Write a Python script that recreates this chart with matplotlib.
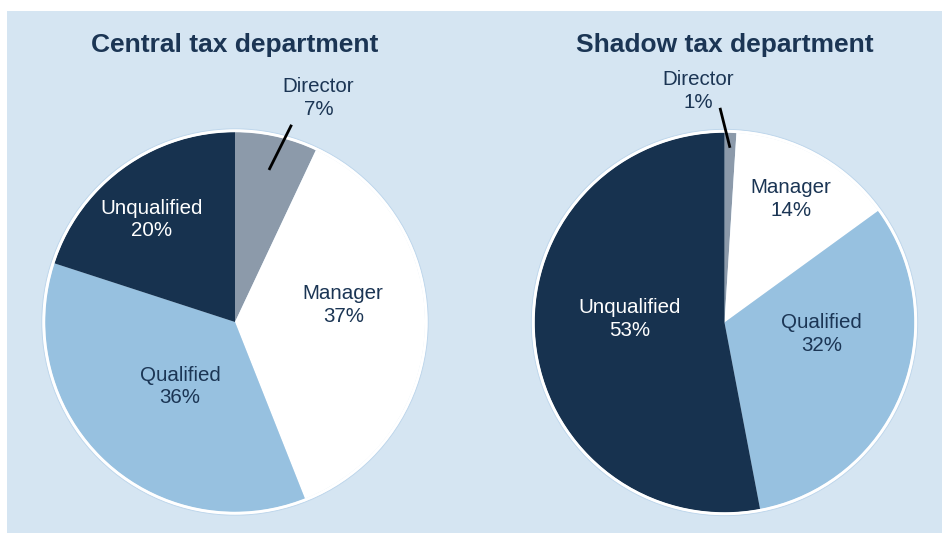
import matplotlib.pyplot as plt
from matplotlib.patches import Rectangle, Circle
import numpy as np

plt.rcParams['font.family'] = ['Liberation Sans', 'DejaVu Sans']

# data
categories = ['Director', 'Manager', 'Qualified', 'Unqualified']
central = [7, 37, 36, 20]
shadow = [1, 14, 32, 53]
titles = ['Central tax department', 'Shadow tax department']

colors = ['#8c9aaa', '#ffffff', '#97c1e0', '#17324f']
txt_colors = ['#1b3554', '#1b3554', '#1b3554', '#ffffff']
navy = '#1b3554'
bg = '#d5e5f2'

W, H = 942, 533
fig = plt.figure(figsize=(W / 100.0, H / 100.0), dpi=100)
ax = fig.add_axes([0, 0, 1, 1])

ax.add_patch(Rectangle((7, 0), W - 7, H - 11, facecolor=bg, edgecolor='none', zorder=0))

# pie layout (pixel units, y up)
centers = [(235, H - 322), (724.5, H - 322.5)]
R = 190
# label positions: (x, y) relative to centre, in units of radius
label_off = [
    [(0.44, 1.18), (0.57, 0.09), (-0.29, -0.34), (-0.44, 0.54)],
    [(-0.14, 1.22), (0.35, 0.65), (0.51, -0.06), (-0.5, 0.02)],
]
leader_r = [(0.82, 1.08, -3.4), (0.92, 1.13, 3.0)]

for k, vals in enumerate([central, shadow]):
    cx, cy = centers[k]
    wedges, _ = ax.pie(vals, colors=colors, startangle=90, counterclock=False,
                       center=(cx, cy), radius=R,
                       wedgeprops=dict(linewidth=0, edgecolor='none'))
    ax.add_patch(Circle((cx, cy), R + 1.5, facecolor='none', edgecolor='white',
                        linewidth=2.5, zorder=5))
    ax.add_patch(Circle((cx, cy), R + 3.2, facecolor='none', edgecolor='#b9d3ea',
                        linewidth=0.6, zorder=5))
    ax.text(cx, H - 45, titles[k], ha='center', va='center', fontsize=19,
            fontweight='bold', color=navy)
    for i, w in enumerate(wedges):
        dx, dy = label_off[k][i]
        ax.text(cx + dx * R, cy + dy * R, '%s\n%d%%' % (categories[i], vals[i]),
                ha='center', va='center', fontsize=14.8, color=txt_colors[i],
                linespacing=1.25, zorder=6)
    # leader line for the small Director wedge
    mid = np.deg2rad((wedges[0].theta1 + wedges[0].theta2) / 2.0)
    r0, r1, dang = leader_r[k]
    end = mid + np.deg2rad(dang)
    ax.plot([cx + r0 * R * np.cos(mid), cx + r1 * R * np.cos(end)],
            [cy + r0 * R * np.sin(mid), cy + r1 * R * np.sin(end)],
            color='black', linewidth=2, zorder=7, solid_capstyle='butt')

ax.set_xlim(0, W)
ax.set_ylim(0, H)
ax.set_aspect('equal')
ax.axis('off')

fig.savefig('out.png', dpi=100, facecolor='white')
